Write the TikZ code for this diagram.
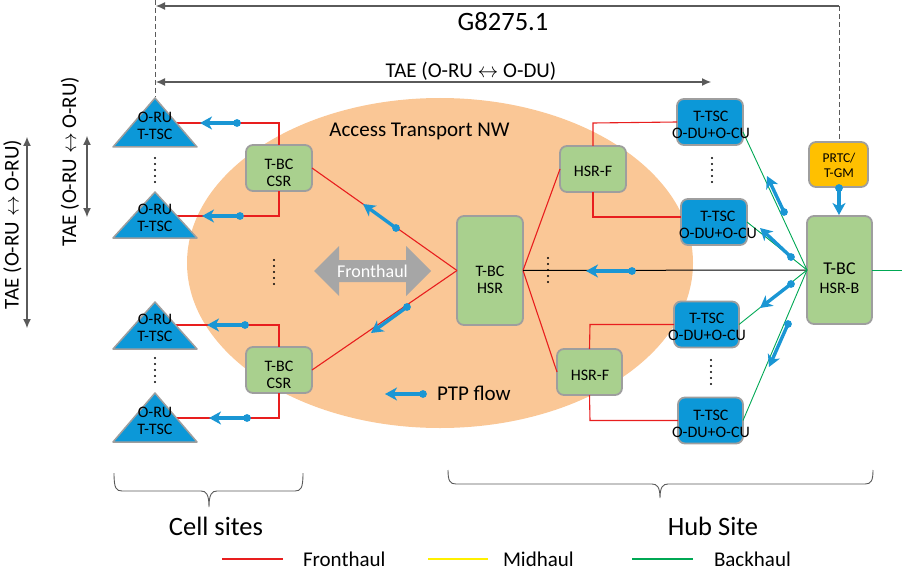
\documentclass[tikz,border=0pt]{standalone}
\usepackage{fontspec}
\setmainfont{Carlito}
\usetikzlibrary{calc,arrows.meta}
\definecolor{ell}{RGB}{250,199,150}
\definecolor{blu}{RGB}{12,152,216}
\definecolor{ptpc}{RGB}{26,150,212}
\definecolor{grn}{RGB}{169,208,142}
\definecolor{bord}{RGB}{158,158,158}
\definecolor{fh}{RGB}{166,166,166}
\definecolor{redl}{RGB}{232,30,30}
\definecolor{greenl}{RGB}{0,168,84}
\definecolor{dimg}{RGB}{90,90,90}
\definecolor{prtcc}{RGB}{255,192,0}
\definecolor{yel}{RGB}{255,240,0}
\newcommand\ptpflow[2]{\draw[ptpa] (#1) -- (#2); \fill[ptpc] (#1) circle (3.9);}
\newcommand\mydots[3]{\foreach \k in {0,...,4} {\fill (#1,#2+\k*#3) circle (1.15);}}
\tikzset{
  every node/.style={inner sep=0pt, outer sep=0pt},
  gbox/.style={draw=bord, line width=1.8pt, fill=grn, rounded corners=7pt, minimum width=66pt, minimum height=46pt},
  bbox/.style={draw=bord, line width=1.8pt, fill=blu, rounded corners=7pt, minimum width=66pt, minimum height=46pt},
  lab/.style={align=center, font=\fontsize{16}{17}\selectfont},
  big/.style={font=\fontsize{26.5}{30}\selectfont},
  mid/.style={font=\fontsize{21}{24}\selectfont},
  redline/.style={draw=redl, line width=1.1pt},
  grnline/.style={draw=greenl, line width=0.9pt},
  ptpa/.style={draw=ptpc, line width=3.4pt, -{Stealth[length=12pt,width=13pt,inset=3.5pt]}},
  dimline/.style={draw=dimg, line width=1.1pt},
  dimboth/.style={{Latex[length=9pt,width=8pt]}-{Latex[length=9pt,width=8pt]}},
  dimleft/.style={{Latex[length=9pt,width=8pt]}-},
  dashline/.style={draw=dimg, line width=0.9pt, dash pattern=on 5pt off 3pt},
  tri/.style={draw=bord, line width=1.5pt, fill=blu, line join=round},
}
\begin{document}
\begin{tikzpicture}[x=1pt,y=-1pt]
\useasboundingbox (0,0) rectangle (902,567);
% ellipse
\fill[ell] (440,263) ellipse [x radius=253, y radius=165];
\node[mid, anchor=base] (atn) at (419.5,136) {Access Transport NW};

% dimension lines
\coordinate (gl) at (156,6); \coordinate (gr) at (839,6);
\draw[dashline] (155,0) -- (155,97);
\draw[dashline] (gr) -- (839,141);
\draw[dimline, dimleft] (gl) -- (gr);
\node[big] (g) at (503,22) {G8275.1};
\coordinate (tl) at (156,82); \coordinate (tr) at (711,82);
\draw[dimline, dimboth] (tl) -- (tr);
\node[mid, anchor=base] (tae1) at (471,78) {TAE (O-RU $\leftrightarrow$ O-DU)};
\coordinate (vo1) at (27,137); \coordinate (vo2) at (27,328);
\draw[dimline, dimboth] (vo1) -- (vo2);
\node[mid, rotate=90] (tae2) at (12.5,224.5) {TAE (O-RU $\leftrightarrow$ O-RU)};
\coordinate (vi1) at (87,136); \coordinate (vi2) at (87,217);
\draw[dimline, dimboth] (vi1) -- (vi2);
\node[mid, rotate=90] (tae3) at (70,161.5) {TAE (O-RU $\leftrightarrow$ O-RU)};

% boxes
\node[gbox] (csr1) at (279,168) {};
\node[gbox] (csr2) at (279,370) {};
\node[gbox, minimum height=109pt] (hsr) at (490,270.5) {};
\node[gbox] (hsrf1) at (593,169) {};
\node[gbox, minimum width=65pt] (hsrf2) at (589.5,372) {};
\node[bbox] (tsc1) at (710,122) {};
\node[bbox] (tsc2) at (714,222) {};
\node[bbox, minimum width=65pt] (tsc3) at (706.5,324.5) {};
\node[bbox, minimum width=65pt] (tsc4) at (710.5,420.5) {};
\node[draw=bord, line width=1.8pt, fill=prtcc, rounded corners=7pt, minimum width=59pt, minimum height=45pt] (prtc) at (838.5,164.5) {};
\node[gbox, minimum width=65pt, minimum height=108pt] (hsrb) at (839.5,270) {};

% triangle anchor points
\coordinate (t1r) at (176.4,123); \coordinate (t2r) at (177,216);
\coordinate (t3r) at (175.5,325); \coordinate (t4r) at (176.4,418);

% red connectors
\draw[redline] (t1r) -- (279,123) -- (csr1.north);
\draw[redline] (csr1.south) -- (279,216) -- (t2r);
\draw[redline] (t3r) -- (279,325) -- (csr2.north);
\draw[redline] (csr2.south) -- (279,418) -- (t4r);
\draw[redline] (csr1.east) -- (hsr.west);
\draw[redline] (csr2.east) -- (hsr.west);
\draw[redline] (hsr.east) -- (hsrf1.west);
\draw[redline] (hsr.east) -- (hsrf2.west);
\draw[redline] (hsrf1.north) -- (593,123) -- (tsc1.west);
\draw[redline] (hsrf1.south) -- (593,217) -- (681,217);
\draw[redline] (hsrf2.north) -- (590,324.5) -- (tsc3.west);
\draw[redline] (hsrf2.south) -- (590,420.5) -- (tsc4.west);
% black and green connectors
\draw[black, line width=1pt] (hsr.east) -- (hsrb.west);
\coordinate (hbr) at (902,270);
\draw[grnline] (hsrb.east) -- (hbr);
\draw[grnline] ($(tsc1.east)+(0,10)$) -- (hsrb.west);
\draw[grnline] (tsc2.east) -- (hsrb.west);
\draw[grnline] (tsc3.east) -- (hsrb.west);
\draw[grnline] (tsc4.east) -- (hsrb.west);

% triangles
\filldraw[tri] (155,98) -- (197,147) -- (113,147) -- cycle;
\filldraw[tri] (155,192) -- (197,238) -- (113,238) -- cycle;
\filldraw[tri] (155,302) -- (197,349) -- (113,349) -- cycle;
\filldraw[tri] (155,393) -- (197,442) -- (113,442) -- cycle;
\node[lab] (tr1) at (155,126) {O-RU\\T-TSC};
\node[lab] (tr2) at (155,217.5) {O-RU\\T-TSC};
\node[lab] (tr3) at (155,328) {O-RU\\T-TSC};
\node[lab] (tr4) at (155,420.5) {O-RU\\T-TSC};

% box labels
\node[lab] (l1) at (279,172.5) {T-BC\\CSR};
\node[lab] (l2) at (279,374.5) {T-BC\\CSR};
\node[lab] (l3) at (490,279.5) {T-BC\\HSR};
\node[lab] (l4) at (593,171.5) {HSR-F};
\node[lab] (l5) at (590,375) {HSR-F};
\node[lab] (l6) at (711,125) {T-TSC\\O-DU+O-CU};
\node[lab] (l7) at (718,224.5) {T-TSC\\O-DU+O-CU};
\node[lab] (l8) at (707,326.5) {T-TSC\\O-DU+O-CU};
\node[lab] (l9) at (711,423.5) {T-TSC\\O-DU+O-CU};
\node[align=center, font=\fontsize{13.5}{15}\selectfont] (l10) at (839,165.5) {PRTC/\\T-GM};
\node[align=center, font=\fontsize{16}{19}\selectfont] (l11) at (839.5,278.5) {{\fontsize{18}{19}\selectfont T-BC}\\HSR-B};

% fronthaul arrow
\fill[fh] (314,271) -- (339,246) -- (339,260) -- (406,260) -- (406,246) -- (431,271)
  -- (406,296) -- (406,282) -- (339,282) -- (339,296) -- cycle;
\node[text=white, font=\fontsize{18}{20}\selectfont] (fhl) at (372.5,271) {Fronthaul};

% dots
\mydots{155}{158}{6}
\mydots{155}{358}{6}
\mydots{274}{260}{6}
\mydots{548}{258}{6}
\mydots{712}{158}{6}
\mydots{711}{360}{6}

% PTP flows
\ptpflow{237,123}{200,123}
\ptpflow{240,216}{202,216}
\ptpflow{245,325}{207,325}
\ptpflow{247,418}{209,418}
\ptpflow{396,228}{363,204}
\ptpflow{407,307}{371,333}
\ptpflow{632,271}{586,271}
\ptpflow{839,188}{839,215}
\ptpflow{784,212}{767,176}
\ptpflow{791,257}{760,228}
\ptpflow{791,284}{760,308}
\ptpflow{788,324}{769,367}
\ptpflow{423,394}{385,394}
\node[mid, anchor=base west] (ptpl) at (437,400) {PTP flow};

% braces
\draw[dimg, line width=0.9pt] (114,473) .. controls (114,488) and (116,491) .. (122,491) -- (201,491)
  .. controls (206,491) and (209,494) .. (209,507) .. controls (209,494) and (212,491) .. (217,491)
  -- (295,491) .. controls (301,491) and (303,488) .. (303,473);
\draw[dimg, line width=0.9pt] (448,470) .. controls (448,481) and (450,484) .. (456,484) -- (652,484)
  .. controls (657,484) and (660,487) .. (660,498) .. controls (660,487) and (663,484) .. (668,484)
  -- (865,484) .. controls (871,484) and (873,481) .. (873,470);
\node[big, anchor=base] (cs) at (216,535) {Cell sites};
\node[big, anchor=base] (hs) at (713,535) {Hub Site};

% legend
\draw[redl, line width=1.5pt] (222,559) -- (283,559);
\node[mid, anchor=base west] (lg1) at (303,566) {Fronthaul};
\draw[yel, line width=1.5pt] (428,559) -- (488,559);
\node[mid, anchor=base west] (lg2) at (503,566) {Midhaul};
\draw[greenl, line width=1.5pt] (632,559) -- (693,559);
\node[mid, anchor=base west] (lg3) at (714,566) {Backhaul};
\end{tikzpicture}
\end{document}
